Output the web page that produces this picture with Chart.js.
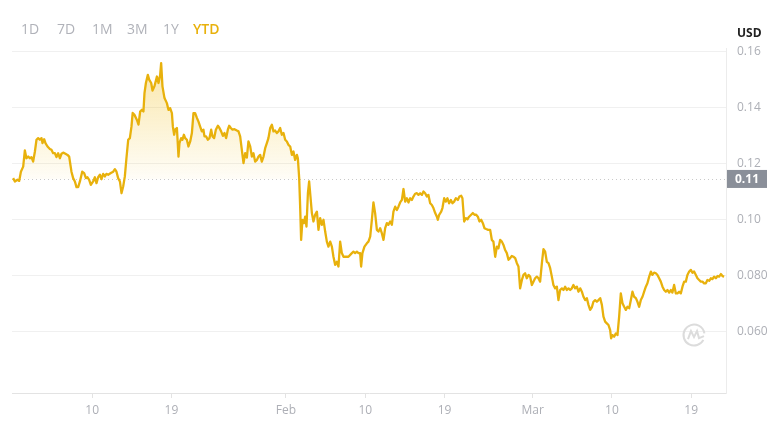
<!DOCTYPE html>
<html>
<head>
<meta charset="utf-8">
<script src="https://cdn.jsdelivr.net/npm/chart.js@4.4.1/dist/chart.umd.min.js"></script>
<style>
body { margin: 0; background: #fff; font-family: 'Open Sans', sans-serif; }
#wrap { position: relative; width: 775px; height: 427px; }
.range { position: absolute; top: 20px; font-size: 14px; line-height: 18px; color: #b0b2b9; }
.range.active { color: #e8b10c; font-weight: 600; }
#usd { position: absolute; left: 737px; top: 25px; font-size: 12px; line-height: 16px; font-weight: 700; color: #222; }
canvas { position: absolute; left: 0; top: 0; }
</style>
</head>
<body>
<div id="wrap">
  <canvas id="priceChart" width="775" height="427"></canvas>
  <span class="range" style="left:21px">1D</span>
  <span class="range" style="left:57px">7D</span>
  <span class="range" style="left:92px">1M</span>
  <span class="range" style="left:127px">3M</span>
  <span class="range" style="left:163px">1Y</span>
  <span class="range active" style="left:193px">YTD</span>
  <span id="usd">USD</span>
</div>
<script>
// days since Jan 1
const days = [
0.03,0.23,0.52,0.72,0.91,1.17,1.36,1.54,1.74,1.93,
2.11,2.30,2.50,2.68,2.87,3.06,3.25,3.36,3.55,3.70,
3.93,4.20,4.38,4.57,4.77,4.95,5.14,5.33,5.52,5.71,
5.97,6.20,6.39,6.65,6.84,7.04,7.22,7.41,7.61,7.87,
8.09,8.29,8.47,8.66,8.85,9.11,9.31,9.49,9.68,9.88,
10.06,10.25,10.44,10.62,10.82,11.12,11.39,11.58,11.76,11.95,
12.15,12.33,12.52,12.71,12.89,13.09,13.28,13.46,13.60,13.80,
14.08,14.26,14.45,14.64,14.82,14.94,15.10,15.32,15.47,15.70,
15.85,16.07,16.35,16.53,16.72,16.83,16.98,17.21,17.48,17.66,
17.85,18.05,18.16,18.31,18.42,18.62,18.80,18.91,19.10,19.25,
19.41,19.56,19.75,19.93,20.13,20.32,20.50,20.69,20.89,21.07,
21.26,21.45,21.63,21.75,21.94,22.13,22.32,22.51,22.66,22.85,
23.04,23.27,23.45,23.64,23.84,24.02,24.21,24.40,24.55,24.74,
24.93,25.15,25.43,25.61,25.80,25.99,26.18,26.37,26.56,26.74,
26.94,27.13,27.31,27.50,27.70,27.88,28.07,28.26,28.45,28.64,
28.83,29.01,29.21,29.40,29.58,29.77,29.97,30.15,30.34,30.53,
30.72,30.91,31.10,31.28,31.48,31.67,31.85,32.04,32.24,32.35,
32.50,32.61,32.72,32.87,33.03,33.18,33.33,33.49,33.63,33.78,
33.94,34.12,34.31,34.51,34.69,34.88,35.07,35.26,35.45,35.64,
35.82,36.02,36.21,36.39,36.58,36.78,36.96,37.15,37.34,37.53,
37.72,38.09,38.48,38.66,38.85,39.05,39.23,39.42,39.53,39.68,
39.91,40.18,40.36,40.56,40.75,40.93,41.12,41.32,41.50,41.69,
41.88,42.07,42.26,42.45,42.63,42.83,43.02,43.20,43.40,43.59,
43.77,43.96,44.16,44.34,44.53,44.72,44.90,45.10,45.29,45.47,
45.66,45.86,46.04,46.23,46.43,46.61,46.80,46.99,47.17,47.37,
47.56,47.74,47.94,48.13,48.24,48.39,48.62,48.76,48.96,49.15,
49.33,49.52,49.72,49.90,50.09,50.28,50.51,50.69,50.89,51.03,
51.23,51.42,51.60,51.79,52.02,52.21,52.40,52.59,52.78,52.96,
53.16,53.35,53.53,53.72,53.95,54.18,54.37,54.55,54.75,54.94,
55.12,55.31,55.51,55.69,55.88,56.07,56.26,56.45,56.64,56.82,
57.02,57.21,57.39,57.58,57.78,57.96,58.15,58.34,58.53,58.72,
58.91,59.09,59.28,59.48,59.66,59.85,60.05,60.23,60.42,60.61,
60.80,60.99,61.18,61.36,61.56,61.75,61.93,62.12,62.32,62.50,
62.69,62.88,63.07,63.26,63.45,63.63,63.83,64.02,64.20,64.40,
64.59,64.77,64.96,65.15,65.34,65.53,65.72,65.90,66.10,66.29,
66.47,66.67,66.86,67.04,67.23,67.42,67.61,67.80,67.91,68.06,
68.25,68.45,68.63,68.82,69.01,69.20,69.39,69.58,69.76,69.96,
70.15,70.33,70.52,70.72,70.90,71.09,71.28,71.47,71.66,71.85,
72.03,72.23,72.42,72.60,72.79,72.99,73.17,73.36,73.55,73.74,
73.93,74.12,74.30,74.50,74.69,74.87,75.06,75.26,75.44,75.63,
75.82,76.01,76.20,76.39,76.57,76.77,76.96,77.14,77.33,77.53,
77.71,77.90,78.09,78.28,78.47,78.66,78.84,79.04,79.23,79.41,
79.60,79.80,79.98,80.17,80.37,80.55,80.74
];

// price in USD
const prices = [
0.1149,0.1137,0.1143,0.1139,0.1172,0.1190,0.1248,0.1220,0.1226,0.1220,
0.1224,0.1208,0.1244,0.1286,0.1292,0.1286,0.1292,0.1274,0.1288,0.1274,
0.1262,0.1253,0.1250,0.1238,0.1238,0.1224,0.1238,0.1220,0.1236,0.1240,
0.1236,0.1232,0.1226,0.1172,0.1149,0.1137,0.1117,0.1117,0.1137,0.1172,
0.1167,0.1149,0.1152,0.1143,0.1125,0.1137,0.1152,0.1131,0.1152,0.1161,
0.1145,0.1164,0.1155,0.1164,0.1161,0.1167,0.1172,0.1181,0.1172,0.1149,
0.1137,0.1095,0.1119,0.1155,0.1220,0.1286,0.1292,0.1333,0.1382,0.1375,
0.1357,0.1340,0.1387,0.1393,0.1387,0.1453,0.1489,0.1518,0.1501,0.1489,
0.1462,0.1477,0.1512,0.1489,0.1518,0.1560,0.1477,0.1435,0.1417,0.1393,
0.1399,0.1381,0.1333,0.1304,0.1322,0.1328,0.1226,0.1274,0.1292,0.1286,
0.1304,0.1292,0.1286,0.1262,0.1280,0.1310,0.1381,0.1381,0.1364,0.1351,
0.1333,0.1316,0.1322,0.1298,0.1298,0.1286,0.1292,0.1322,0.1298,0.1292,
0.1322,0.1336,0.1328,0.1316,0.1300,0.1310,0.1292,0.1322,0.1336,0.1328,
0.1322,0.1324,0.1319,0.1316,0.1298,0.1250,0.1203,0.1238,0.1222,0.1280,
0.1262,0.1226,0.1238,0.1208,0.1214,0.1226,0.1232,0.1208,0.1226,0.1256,
0.1274,0.1292,0.1328,0.1340,0.1316,0.1319,0.1310,0.1316,0.1328,0.1304,
0.1310,0.1286,0.1280,0.1268,0.1262,0.1232,0.1244,0.1214,0.1232,0.1220,
0.1149,0.1047,0.0928,0.1000,0.0988,0.1011,0.0976,0.1095,0.1137,0.1083,
0.1024,0.0994,0.1018,0.1029,0.0964,0.1006,0.0982,0.1000,0.0958,0.0922,
0.0904,0.0922,0.0904,0.0868,0.0839,0.0850,0.0833,0.0922,0.0881,0.0868,
0.0868,0.0868,0.0881,0.0886,0.0881,0.0886,0.0881,0.0881,0.0833,0.0881,
0.0904,0.0916,0.0922,0.0940,0.1000,0.1062,0.1024,0.0964,0.0958,0.0970,
0.0952,0.0928,0.0970,0.0988,0.0982,0.0994,0.0982,0.1029,0.1047,0.1035,
0.1047,0.1062,0.1071,0.1110,0.1065,0.1077,0.1062,0.1077,0.1071,0.1083,
0.1093,0.1095,0.1089,0.1095,0.1089,0.1101,0.1095,0.1083,0.1089,0.1059,
0.1053,0.1042,0.1024,0.1011,0.1000,0.1018,0.1029,0.1042,0.1077,0.1065,
0.1077,0.1059,0.1071,0.1059,0.1065,0.1077,0.1071,0.1083,0.1086,0.1077,
0.0994,0.1006,0.1002,0.1011,0.1018,0.1024,0.1018,0.1018,0.1011,0.0994,
0.1000,0.0988,0.0970,0.0967,0.0964,0.0964,0.0928,0.0922,0.0868,0.0904,
0.0898,0.0928,0.0922,0.0910,0.0892,0.0881,0.0857,0.0863,0.0871,0.0868,
0.0863,0.0845,0.0833,0.0755,0.0785,0.0803,0.0809,0.0791,0.0803,0.0797,
0.0767,0.0779,0.0791,0.0797,0.0791,0.0779,0.0845,0.0895,0.0886,0.0850,
0.0845,0.0827,0.0797,0.0767,0.0755,0.0761,0.0713,0.0749,0.0755,0.0749,
0.0761,0.0749,0.0755,0.0749,0.0755,0.0767,0.0755,0.0761,0.0743,0.0755,
0.0743,0.0725,0.0713,0.0720,0.0696,0.0678,0.0687,0.0707,0.0713,0.0707,
0.0713,0.0720,0.0696,0.0654,0.0636,0.0630,0.0624,0.0606,0.0576,0.0588,
0.0582,0.0594,0.0588,0.0654,0.0737,0.0702,0.0689,0.0678,0.0689,0.0684,
0.0713,0.0743,0.0725,0.0720,0.0707,0.0689,0.0713,0.0725,0.0743,0.0761,
0.0773,0.0797,0.0815,0.0803,0.0811,0.0809,0.0803,0.0791,0.0779,0.0761,
0.0749,0.0743,0.0749,0.0740,0.0749,0.0740,0.0767,0.0737,0.0737,0.0743,
0.0737,0.0761,0.0779,0.0779,0.0803,0.0815,0.0821,0.0811,0.0815,0.0803,
0.0791,0.0785,0.0779,0.0779,0.0773,0.0773,0.0785,0.0782,0.0791,0.0788,
0.0797,0.0791,0.0799,0.0797,0.0806,0.0799,0.0797
];

const openPrice = 0.1146;
const xTickDays = [9, 18, 31, 40, 49, 59, 68, 77];
const xTickLabels = ['10', '19', 'Feb', '10', '19', 'Mar', '10', '19'];
const yTicks = [0.06, 0.08, 0.10, 0.12, 0.14, 0.16];

const gold = '#e8b10c';
const tickFont = { family: "'Open Sans', sans-serif", size: 12 };

function fillGradient(context) {
    const chart = context.chart;
    const area = chart.chartArea;
    if (!area) return 'rgba(232,177,12,0.15)';
    const y = chart.scales.y;
    const g = chart.ctx.createLinearGradient(0, y.getPixelForValue(0.155), 0, y.getPixelForValue(openPrice));
    g.addColorStop(0, 'rgba(240,185,11,0.34)');
    g.addColorStop(1, 'rgba(240,185,11,0.03)');
    return g;
}

const overlay = {
    id: 'overlay',
    beforeDatasetsDraw(chart) {
        const ctx = chart.ctx;
        const area = chart.chartArea;
        const y = Math.round(chart.scales.y.getPixelForValue(openPrice)) + 0.5;
        ctx.save();
        ctx.strokeStyle = '#c9c9c9';
        ctx.lineWidth = 1;
        ctx.setLineDash([1, 3]);
        ctx.beginPath();
        ctx.moveTo(area.left, y);
        ctx.lineTo(area.right, y);
        ctx.stroke();
        ctx.setLineDash([]);

        // watermark logo
        const cx = area.right - 32, cy = chart.scales.y.getPixelForValue(0.0588);
        ctx.strokeStyle = '#dcdcdc';
        ctx.lineWidth = 2;
        ctx.beginPath();
        ctx.arc(cx, cy, 10.5, 0.15 * Math.PI, 1.95 * Math.PI);
        ctx.stroke();
        ctx.beginPath();
        ctx.moveTo(cx - 6, cy + 4);
        ctx.lineTo(cx - 3, cy - 4);
        ctx.lineTo(cx, cy + 2);
        ctx.lineTo(cx + 3, cy - 4);
        ctx.lineTo(cx + 5, cy + 3);
        ctx.lineTo(cx + 10, cy + 1);
        ctx.stroke();
        ctx.restore();
    },
    afterDraw(chart) {
        const ctx = chart.ctx;
        const area = chart.chartArea;
        const y = chart.scales.y.getPixelForValue(openPrice);
        ctx.save();
        ctx.fillStyle = '#8a8f99';
        ctx.fillRect(area.right + 1, y - 9, 40, 18);
        ctx.fillStyle = '#fff';
        ctx.font = "bold 12px 'Open Sans', sans-serif";
        ctx.textAlign = 'center';
        ctx.textBaseline = 'middle';
        ctx.fillText(openPrice.toFixed(2), area.right + 21, y + 0.5);
        ctx.restore();
    }
};

const ctx = document.getElementById('priceChart').getContext('2d');
const priceChart = new Chart(ctx, {
    type: 'line',
    data: {
        datasets: [{
            label: 'Price (USD)',
            data: days.map((d, i) => ({ x: d, y: prices[i] })),
            borderColor: gold,
            borderWidth: 2.3,
            borderJoinStyle: 'round',
            pointRadius: 0,
            tension: 0,
            backgroundColor: fillGradient,
            fill: { target: { value: openPrice }, below: 'rgba(0,0,0,0)' }
        }]
    },
    options: {
        responsive: false,
        animation: false,
        layout: { padding: { left: 12, top: 48, right: 0, bottom: 0 } },
        scales: {
            x: {
                type: 'linear',
                min: -0.1,
                max: 80.95,
                afterFit: function(scale) { scale.height = 34; },
                afterBuildTicks: function(scale) {
                    scale.ticks = xTickDays.map(v => ({ value: v }));
                },
                grid: { drawOnChartArea: false, drawTicks: true, tickLength: 5, color: '#e3e3e3' },
                border: { display: true, color: '#e3e3e3' },
                ticks: {
                    autoSkip: false,
                    maxRotation: 0,
                    padding: 5,
                    color: '#adafb6',
                    font: tickFont,
                    callback: function(value) {
                        const i = xTickDays.indexOf(value);
                        return i >= 0 ? xTickLabels[i] : '';
                    }
                }
            },
            y: {
                position: 'right',
                min: 0.0381,
                max: 0.1614,
                afterFit: function(scale) { scale.width = 49; },
                afterBuildTicks: function(scale) {
                    scale.ticks = yTicks.map(v => ({ value: v }));
                },
                grid: { drawTicks: false, color: '#f0f0f0' },
                border: { display: true, color: '#ececec' },
                ticks: {
                    padding: 11,
                    color: '#adafb6',
                    font: tickFont,
                    callback: function(value) {
                        return value < 0.1 ? value.toFixed(3) : value.toFixed(2);
                    }
                }
            }
        },
        plugins: {
            legend: { display: false },
            tooltip: { enabled: false }
        }
    },
    plugins: [overlay]
});
</script>
</body>
</html>
